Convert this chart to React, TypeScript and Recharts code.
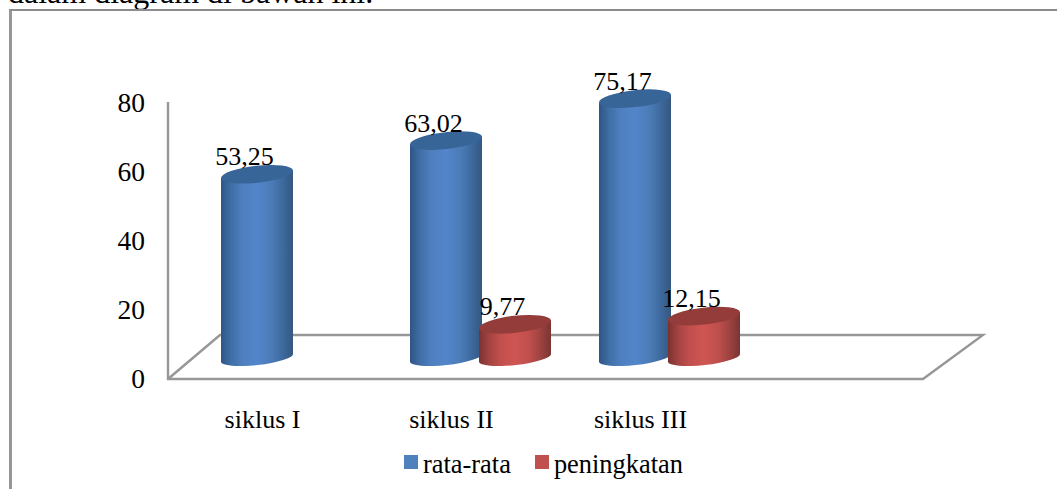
import React from "react";
import { BarChart, Bar, XAxis, YAxis, Legend, LabelList, usePlotArea } from "recharts";

const categories = ["siklus I", "siklus II", "siklus III", ""];
const rataRata = [53.25, 63.02, 75.17, null];
const peningkatan = [null, 9.77, 12.15, null];
const yTicks = [0, 20, 40, 60, 80];
const caption = "dalam diagram di bawah ini.";

const rows = categories.map((name, i) => ({
  name,
  "rata-rata": rataRata[i],
  peningkatan: peningkatan[i],
}));

const FONT = '"Liberation Serif", "Times New Roman", serif';
const FS = 26;
const TILT = 6.3;
const WALL_DX = -29;
const WALL_DY = 20;

const palettes: Record<string, { stops: string[]; top: string; flat: string }> = {
  blue: {
    stops: ["#2F5585", "#4070A8", "#4F7FBE", "#5285CB", "#4C7CB7", "#3E6A9F", "#34587F"],
    top: "#386597",
    flat: "#4F81BD",
  },
  red: {
    stops: ["#7A3230", "#A54442", "#C24F4D", "#CF5552", "#BE4F4C", "#9E4341", "#7A3432"],
    top: "#943C3A",
    flat: "#C0504D",
  },
};
const stopOffsets = [0, 15, 30, 50, 70, 85, 100];

function Gradient({ id, stops }: { id: string; stops: string[] }) {
  return (
    <linearGradient id={id} x1="0" x2="1" y1="0" y2="0">
      {stops.map((c, i) => (
        <stop key={i} offset={`${stopOffsets[i]}%`} stopColor={c} />
      ))}
    </linearGradient>
  );
}

function cylinder(kind: "blue" | "red") {
  return function Cylinder(props: any) {
    const { x, y, width, height } = props;
    if (!height || height <= 0) return null;
    const half = width / 2;
    const rad = (TILT * Math.PI) / 180;
    const rx = half / Math.cos(rad);
    const cx = x + half;
    const lift = half * Math.tan(rad);
    const bottom = y + height;
    const d = `M${x},${y + lift} L${x},${bottom + lift} A${rx},7 ${-TILT} 0 0 ${x + width},${bottom - lift} L${x + width},${y - lift} Z`;
    return (
      <g>
        <path d={d} fill={`url(#cyl-${kind})`} />
        <ellipse cx={cx} cy={y} rx={rx} ry={8.5} fill={palettes[kind].top} transform={`rotate(${-TILT} ${cx} ${y})`} />
      </g>
    );
  };
}

function Floor() {
  const area = usePlotArea();
  if (!area) return null;
  const left = area.x;
  const right = area.x + area.width;
  const base = area.y + area.height;
  const pts = [
    [left + WALL_DX, area.y + WALL_DY],
    [left + WALL_DX, base + 21],
    [right - 30, base + 21],
    [right + 30, base - 23],
    [left + 23, base - 23],
    [left + WALL_DX, base + 21],
  ];
  return (
    <polyline points={pts.map((p) => p.join(",")).join(" ")} fill="none" stroke="#979797" strokeWidth={2.4} />
  );
}

function YTick({ x, y, payload }: any) {
  return (
    <text x={x + WALL_DX - 17} y={y + WALL_DY + 1} dy="0.34em" textAnchor="end" fontFamily={FONT} fontSize={27.5} fill="#000">
      {payload.value}
    </text>
  );
}

function XTick({ x, y, payload }: any) {
  return (
    <text x={x + WALL_DX} y={y + 62} textAnchor="middle" fontFamily={FONT} fontSize={FS} fill="#000">
      {payload.value}
    </text>
  );
}

function ValueLabel({ x, y, width, value }: any) {
  if (value === null || value === undefined) return null;
  return (
    <text x={x + width / 2 - 12.5} y={y - 9} textAnchor="middle" fontFamily={FONT} fontSize={FS} fill="#000">
      {Number(value).toFixed(2).replace(".", ",")}
    </text>
  );
}

function LegendBox({ payload }: any) {
  return (
    <div style={{ display: "flex", alignItems: "center", fontFamily: FONT, fontSize: 26.4, lineHeight: "30px", color: "#000" }}>
      {(payload || []).map((e: any) => (
        <div key={e.value} style={{ display: "flex", alignItems: "center", marginRight: 24 }}>
          <span style={{ width: 14, height: 14, background: e.color, marginRight: 5, marginTop: -4 }} />
          <span>{e.value}</span>
        </div>
      ))}
    </div>
  );
}

export default function App() {
  return (
    <div style={{ position: "absolute", left: 0, top: 0, width: 1057, height: 489, overflow: "hidden", background: "#fff" }}>
      <div style={{ position: "absolute", left: 8, top: -26, fontFamily: FONT, fontSize: 32, lineHeight: "36px", whiteSpace: "nowrap", color: "#000" }}>
        {caption}
      </div>
      <div style={{ position: "absolute", left: 9, top: 9, width: 1060, height: 500, borderTop: "2px solid #8c8c8c", borderLeft: "3px solid #969696", boxSizing: "border-box" }} />
      <BarChart
        width={1057}
        height={489}
        data={rows}
        margin={{ top: 82, right: 104, bottom: 91, left: 196 }}
        barSize={72}
        barGap={-3}
        barCategoryGap={0}
        style={{ position: "absolute", left: 0, top: 0 }}
      >
        <defs>
          <Gradient id="cyl-blue" stops={palettes.blue.stops} />
          <Gradient id="cyl-red" stops={palettes.red.stops} />
        </defs>
        <Floor />
        <XAxis dataKey="name" height={40} axisLine={false} tickLine={false} tick={<XTick />} interval={0} />
        <YAxis width={1} domain={[0, 80]} ticks={yTicks} axisLine={false} tickLine={false} tick={<YTick />} tickMargin={0} />
        <Legend
          layout="horizontal"
          verticalAlign="middle"
          align="center"
          itemSorter={null}
          content={<LegendBox />}
          wrapperStyle={{ left: 404, top: 449, width: 400, height: 30 }}
        />
        <Bar dataKey="rata-rata" fill={palettes.blue.flat} shape={cylinder("blue")} isAnimationActive={false}>
          <LabelList dataKey="rata-rata" content={<ValueLabel />} />
        </Bar>
        <Bar dataKey="peningkatan" fill={palettes.red.flat} shape={cylinder("red")} isAnimationActive={false}>
          <LabelList dataKey="peningkatan" content={<ValueLabel />} />
        </Bar>
      </BarChart>
    </div>
  );
}
